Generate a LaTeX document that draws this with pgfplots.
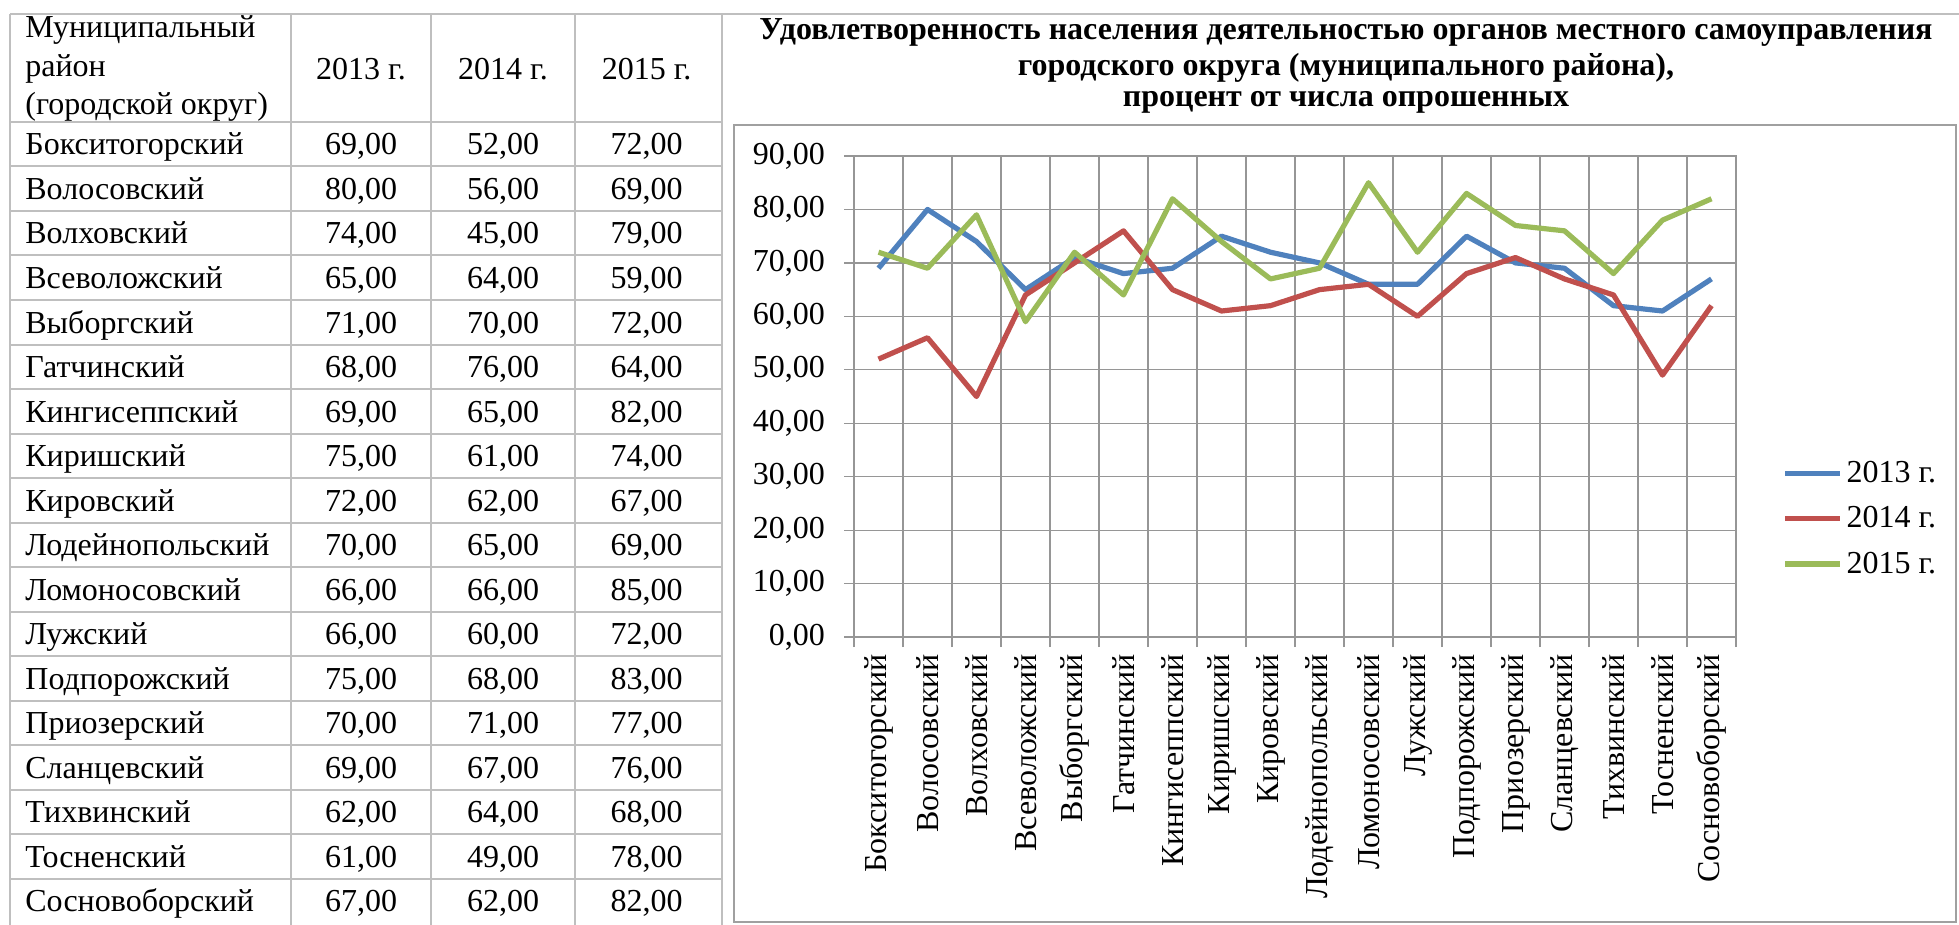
\documentclass[border=0pt]{standalone}
\usepackage{fontspec}
\setmainfont{Liberation Serif}
\usepackage{pgfplots}
\usepackage{pgfplotstable}
\pgfplotsset{compat=1.18}
\definecolor{s13}{HTML}{4F81BD}
\definecolor{s14}{HTML}{C0504D}
\definecolor{s15}{HTML}{9BBB59}
\definecolor{tblline}{HTML}{BFBFBF}
\definecolor{gridc}{HTML}{969696}
\definecolor{boxc}{HTML}{A0A0A0}
\newcommand\fs{\fontsize{16}{19.25}\selectfont}

\pgfplotstableread{
x name y13 y14 y15
0 Бокситогорский 69 52 72
1 Волосовский 80 56 69
2 Волховский 74 45 79
3 Всеволожский 65 64 59
4 Выборгский 71 70 72
5 Гатчинский 68 76 64
6 Кингисеппский 69 65 82
7 Киришский 75 61 74
8 Кировский 72 62 67
9 Лодейнопольский 70 65 69
10 Ломоносовский 66 66 85
11 Лужский 66 60 72
12 Подпорожский 75 68 83
13 Приозерский 70 71 77
14 Сланцевский 69 67 76
15 Тихвинский 62 64 68
16 Тосненский 61 49 78
17 Сосновоборский 67 62 82
}\data

\begin{document}
\begin{tikzpicture}[font=\fs]
\path[use as bounding box] (0,0) rectangle (979.5pt,-462.5pt);
% table grid
\begin{scope}[draw=tblline, line width=1pt]
\draw (5pt,-7pt) -- (979.5pt,-7pt);
\foreach \x in {5,145.5,215.5,287.5,361} \draw (\x pt,-7pt) -- (\x pt,-462.5pt);
\draw (5pt,-61pt) -- (361pt,-61pt);
\foreach \k in {1,...,17} \draw (5pt,{(-61-\k*22.25)*1pt}) -- (361pt,{(-61-\k*22.25)*1pt});
\end{scope}
% table header
\node[anchor=west, align=left, inner sep=0pt] at (12.5pt,-34.5pt) {Муниципальный\\район\\(городской округ)};
\node at (180.5pt,-34.5pt) {2013 г.};
\node at (251.5pt,-34.5pt) {2014 г.};
\node at (323.25pt,-34.5pt) {2015 г.};
% table rows
\foreach \i in {0,...,17} {
  \pgfmathsetmacro\yy{-73.5-22.25*\i}
  \node[anchor=west, inner sep=0pt, text height=11pt, text depth=3pt] at (12.5pt,\yy pt) {\pgfplotstablegetelem{\i}{name}\of\data\pgfplotsretval};
  \node[inner sep=0pt, text height=11pt, text depth=3pt] at (180.5pt,\yy pt) {\pgfplotstablegetelem{\i}{y13}\of\data\pgfmathprintnumber[fixed,fixed zerofill,precision=2,use comma,assume math mode=true]{\pgfplotsretval}};
  \node[inner sep=0pt, text height=11pt, text depth=3pt] at (251.5pt,\yy pt) {\pgfplotstablegetelem{\i}{y14}\of\data\pgfmathprintnumber[fixed,fixed zerofill,precision=2,use comma,assume math mode=true]{\pgfplotsretval}};
  \node[inner sep=0pt, text height=11pt, text depth=3pt] at (323.25pt,\yy pt) {\pgfplotstablegetelem{\i}{y15}\of\data\pgfmathprintnumber[fixed,fixed zerofill,precision=2,use comma,assume math mode=true]{\pgfplotsretval}};
}
% chart frame
\draw[boxc, line width=1.2pt] (367pt,-62.5pt) rectangle (978pt,-461pt);
% title
\begin{scope}[font=\fs\bfseries]
\node[text height=11pt, text depth=3pt] at (673pt,-15.6pt) {Удовлетворенность населения деятельностью органов местного самоуправления};
\node[text height=11pt, text depth=3pt] at (673pt,-33.8pt) {городского округа (муниципального района),};
\node[text height=11pt, text depth=3pt] at (673pt,-49.5pt) {процент от числа опрошенных};
\end{scope}

\begin{axis}[
  at={(427pt,-318.5pt)}, anchor=south west,
  width=441pt, height=240.5pt, scale only axis,
  xmin=-0.5, xmax=17.5, ymin=0, ymax=90,
  ytick={0,10,...,90},
  xtick={0,...,17},
  xticklabels from table={\data}{name},
  xtick style={draw=none},
  extra x ticks={-0.5,0.5,...,17.5},
  extra x tick labels={},
  extra x tick style={grid=major, xtick style={draw=gridc, line width=0.6pt}},
  ymajorgrids,
  grid style={gridc, line width=0.6pt},
  axis line style={gridc, line width=0.6pt},
  ytick style={gridc, line width=0.6pt},
  major tick length=5pt,
  tick align=outside,
  tick pos=left,
  tick label style={font=\fs},
  yticklabel style={xshift=-6pt, /pgf/number format/.cd, fixed, fixed zerofill, precision=2, use comma, assume math mode=true},
  xticklabel style={rotate=90, anchor=east},
  legend style={draw=none, fill=none, at={(1,0.246)}, anchor=west, xshift=20pt, font=\fs, row sep=6.5pt},
  legend image code/.code={\draw[#1] (0pt,0pt) -- (27.5pt,0pt);},
  legend cell align=left,
  every axis plot/.append style={line width=2.6pt, line join=round},
]
\addplot[s13, mark=none] table[x=x, y=y13] {\data};
\addplot[s14, mark=none] table[x=x, y=y14] {\data};
\addplot[s15, mark=none] table[x=x, y=y15] {\data};
\legend{2013 г., 2014 г., 2015 г.}
\end{axis}
\end{tikzpicture}
\end{document}
